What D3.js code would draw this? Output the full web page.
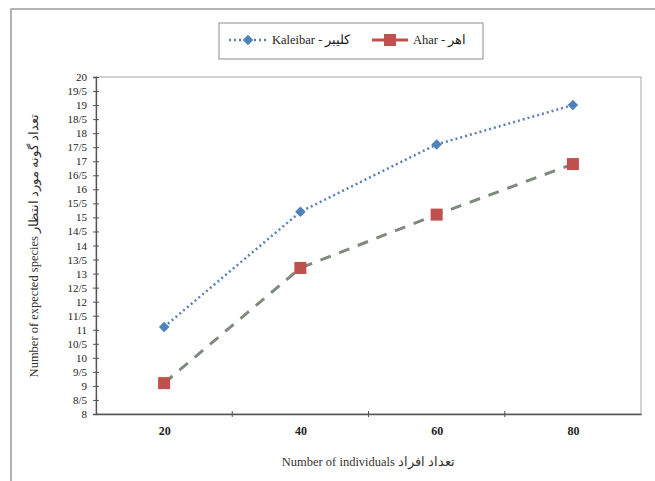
<!DOCTYPE html>
<html>
<head>
<meta charset="utf-8">
<script src="https://cdn.jsdelivr.net/npm/d3@7"></script>
<style>
  body { margin: 0; background: #fff; }
  svg text { font-family: "Liberation Serif", "DejaVu Serif", "Noto Serif", serif !important; }
</style>
</head>
<body>
<div id="chart"></div>
<script>
const categories = ["20", "40", "60", "80"];
const kaleibar = [11.1, 15.2, 17.6, 19.0];
const ahar = [9.1, 13.2, 15.1, 16.9];
const yTicks = d3.range(8, 20.01, 0.5);
const seriesNames = ["Kaleibar - کلیبر", "Ahar - اهر"];

let width = 655, height = 481,
    margin = ({ top: 77, right: 14, bottom: 67, left: 96 });

const svg = d3.select("#chart")
  .append("svg")
  .attr("width", width)
  .attr("height", height)
  .attr("font-family", "Liberation Serif, serif");

// outer frame (only top/left visible in the picture)
svg.append("path")
  .attr("d", `M11,${height} V9 H${width}`)
  .attr("fill", "none")
  .attr("stroke", "#9a9a9a")
  .attr("stroke-width", 1.5);

let x = d3.scalePoint()
  .domain(categories)
  .range([margin.left, width - margin.right])
  .padding(0.5);

let y = d3.scaleLinear()
  .domain([8, 20])
  .range([height - margin.bottom, margin.top]);

// plot area border
svg.append("rect")
  .attr("x", margin.left)
  .attr("y", margin.top)
  .attr("width", width - margin.right - margin.left)
  .attr("height", height - margin.bottom - margin.top)
  .attr("fill", "none")
  .attr("stroke", "#a6a6a6");

// y axis
const yAxis = svg.append("g")
  .attr("transform", `translate(${margin.left},0)`)
  .call(d3.axisLeft(y).tickValues(yTicks).tickSize(3)
    .tickFormat(d => String(d).replace(".", "/")));
yAxis.attr("font-family", null);
yAxis.select(".domain").attr("stroke", "#555").attr("stroke-width", 1.3);
yAxis.selectAll(".tick line").attr("x1", -3).attr("x2", 3).attr("stroke", "#555");
yAxis.selectAll(".tick text")
  .attr("x", -9)
  .attr("font-size", 11)
  .attr("fill", "#222");

// x axis
const step = x.step();
const xAxis = svg.append("g")
  .attr("transform", `translate(0,${height - margin.bottom})`)
  .call(d3.axisBottom(x).tickSize(0).tickPadding(12));
xAxis.attr("font-family", null);
xAxis.select(".domain").attr("stroke", "#555").attr("stroke-width", 1.3);
xAxis.selectAll(".tick text")
  .attr("font-size", 12)
  .attr("font-weight", "bold")
  .attr("fill", "#222");
xAxis.selectAll("line.sep")
  .data(categories.slice(1))
  .join("line")
  .attr("class", "sep")
  .attr("x1", d => x(d) - step / 2)
  .attr("x2", d => x(d) - step / 2)
  .attr("y1", -3)
  .attr("y2", 3)
  .attr("stroke", "#555");

// axis titles
svg.append("text")
  .attr("x", (margin.left + width - margin.right) / 2)
  .attr("y", 466)
  .attr("text-anchor", "middle")
  .attr("font-size", 12.5)
  .attr("fill", "#333")
  .text("Number of individuals  تعداد افراد");

svg.append("text")
  .attr("transform", `translate(38,${(margin.top + height - margin.bottom) / 2}) rotate(-90)`)
  .attr("text-anchor", "middle")
  .attr("font-size", 12.5)
  .attr("fill", "#333")
  .text("Number of expected species  تعداد گونه مورد انتظار");

const line = d3.line()
  .x((d, i) => x(categories[i]))
  .y(d => y(d));

// Ahar
svg.append("path")
  .datum(ahar)
  .attr("d", line)
  .attr("fill", "none")
  .attr("stroke", "#7f8a7f")
  .attr("stroke-width", 3)
  .attr("stroke-dasharray", "11,9");

svg.append("g")
  .selectAll("rect")
  .data(ahar)
  .join("rect")
  .attr("x", (d, i) => x(categories[i]) - 6)
  .attr("y", d => y(d) - 6)
  .attr("width", 12)
  .attr("height", 12)
  .attr("fill", "#c0504d");

// Kaleibar
svg.append("path")
  .datum(kaleibar)
  .attr("d", line)
  .attr("fill", "none")
  .attr("stroke", "#5b7fb5")
  .attr("stroke-width", 2.5)
  .attr("stroke-dasharray", "2,3");

const diamond = d3.symbol().type(d3.symbolDiamond2).size(70);
svg.append("g")
  .selectAll("path")
  .data(kaleibar)
  .join("path")
  .attr("d", diamond)
  .attr("transform", (d, i) => `translate(${x(categories[i])},${y(d)})`)
  .attr("fill", "#4f81bd");

// legend
const lg = svg.append("g");
lg.append("rect")
  .attr("x", 219).attr("y", 23)
  .attr("width", 264).attr("height", 36)
  .attr("fill", "#fff")
  .attr("stroke", "#8c8c8c");

lg.append("line")
  .attr("x1", 229).attr("x2", 267).attr("y1", 40).attr("y2", 40)
  .attr("stroke", "#5b7fb5").attr("stroke-width", 2.5)
  .attr("stroke-dasharray", "2,3");
lg.append("path")
  .attr("d", diamond)
  .attr("transform", "translate(248,40)")
  .attr("fill", "#4f81bd");
lg.append("text")
  .attr("x", 272).attr("y", 44)
  .attr("font-size", 12.5)
  .attr("fill", "#222")
  .text(seriesNames[0]);

lg.append("line")
  .attr("x1", 372).attr("x2", 408).attr("y1", 40).attr("y2", 40)
  .attr("stroke", "#c0504d").attr("stroke-width", 3);
lg.append("rect")
  .attr("x", 384).attr("y", 34).attr("width", 12).attr("height", 12)
  .attr("fill", "#c0504d");
lg.append("text")
  .attr("x", 413).attr("y", 44)
  .attr("font-size", 12.5)
  .attr("fill", "#222")
  .text(seriesNames[1]);
</script>
</body>
</html>
